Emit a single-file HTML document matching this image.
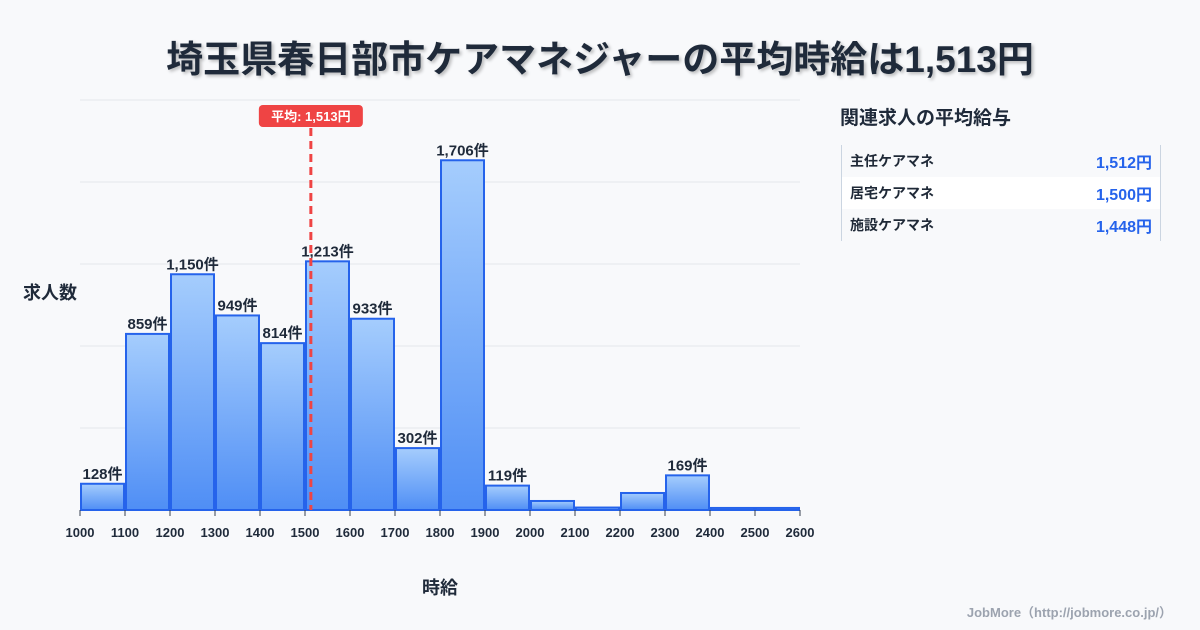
<!DOCTYPE html>
<html><head><meta charset="utf-8"><style>
body{margin:0;width:1200px;height:630px;background:#f8f9fb;font-family:"Liberation Sans","Noto Sans CJK JP",sans-serif;overflow:hidden;position:relative;color:#1f2937}
.title{position:absolute;top:29px;left:0;width:1200px;text-align:center;font-size:37px;font-weight:bold;color:#1f2a3a;text-shadow:2px 2px 3px rgba(0,0,0,0.25)}
.side{position:absolute;left:840px;top:103px}
.side h3{margin:0;font-size:19px;font-weight:bold;color:#1f2a3a}
.tbl{position:absolute;left:841px;top:145px;width:318px;border-left:1px solid #cbd5e1;border-right:1px solid #cbd5e1}
.row{height:32px;display:flex;justify-content:space-between;align-items:center;padding:0 8px;font-size:14px;font-weight:bold}
.row .v{color:#2563eb;font-size:16px}
.foot{position:absolute;right:28px;top:602px;font-size:13px;color:#9ca3af;font-weight:bold}
</style></head><body>
<div class="title">埼玉県春日部市ケアマネジャーの平均時給は1,513円</div>
<svg id="chart" width="820" height="630" style="position:absolute;left:0;top:0">
<defs><linearGradient id="g" x1="0" y1="0" x2="0" y2="1"><stop offset="0" stop-color="#a5cdfd"/><stop offset="1" stop-color="#4f8ef5"/></linearGradient></defs>
</svg>
<div class="side"><h3>関連求人の平均給与</h3></div>
<div class="tbl">
<div class="row"><span>主任ケアマネ</span><span class="v">1,512円</span></div>
<div class="row" style="background:#fff"><span>居宅ケアマネ</span><span class="v">1,500円</span></div>
<div class="row"><span>施設ケアマネ</span><span class="v">1,448円</span></div>
</div>
<div class="foot">JobMore（http://jobmore.co.jp/）</div>
<script>
const binStarts=[1000,1100,1200,1300,1400,1500,1600,1700,1800,1900,2000,2100,2200,2300,2400,2500];
const counts=[128,859,1150,949,814,1213,933,302,1706,119,44,12,83,169,10,10];
const showLabel=[true,true,true,true,true,true,true,true,true,true,false,false,false,true,false,false];
const xTicks=[1000,1100,1200,1300,1400,1500,1600,1700,1800,1900,2000,2100,2200,2300,2400,2500,2600];
const yGrid=[0,400,800,1200,1600,2000];
const avg=1513;
const svg=document.getElementById('chart');const NS='http://www.w3.org/2000/svg';
const x=v=>80+(v-1000)*720/1600;
const y=v=>510-v*410/2000;
function mk(t,a,txt){const e=document.createElementNS(NS,t);for(const k in a)e.setAttribute(k,a[k]);if(txt!==undefined)e.textContent=txt;svg.appendChild(e);return e;}
yGrid.forEach(g=>{const l=mk('line',{x1:80,x2:800,y1:y(g),y2:y(g),stroke:'#e5e7eb'});

});
counts.forEach((c,i)=>{const x0=x(binStarts[i])+1,x1=x(binStarts[i]+100)-1;
const r=mk('rect',{x:x0,y:y(c),width:x1-x0,height:510-y(c),fill:'url(#g)',stroke:'#2563eb','stroke-width':2});


if(showLabel[i]){const t=mk('text',{x:(x0+x1)/2,y:y(c)-5,'text-anchor':'middle','font-size':15,'font-weight':'bold',fill:'#1f2a3a'},c.toLocaleString()+'件');

}});
xTicks.forEach(v=>{const tk=mk('line',{x1:x(v),x2:x(v),y1:510,y2:516,stroke:'#374151'});


const t=mk('text',{x:x(v),y:537,'text-anchor':'middle','font-size':13,'font-weight':'bold',fill:'#1f2a3a'},v);

});
const al=mk('line',{x1:x(avg),x2:x(avg),y1:128,y2:510,stroke:'#ef4444','stroke-width':3,'stroke-dasharray':'8,5'});


const ab=mk('rect',{x:x(avg)-52,y:105,width:104,height:22,rx:4,fill:'#ef4444'});


const at=mk('text',{x:x(avg),y:121,'text-anchor':'middle','font-size':13,'font-weight':'bold',fill:'#fff'},'平均: '+avg.toLocaleString()+'円');


const yt=mk('text',{x:50,y:299,'text-anchor':'middle','font-size':18,'font-weight':'bold',fill:'#1f2a3a'},'求人数');


const xt=mk('text',{x:440,y:594,'text-anchor':'middle','font-size':18,'font-weight':'bold',fill:'#1f2a3a'},'時給');


</script>
</body></html>
